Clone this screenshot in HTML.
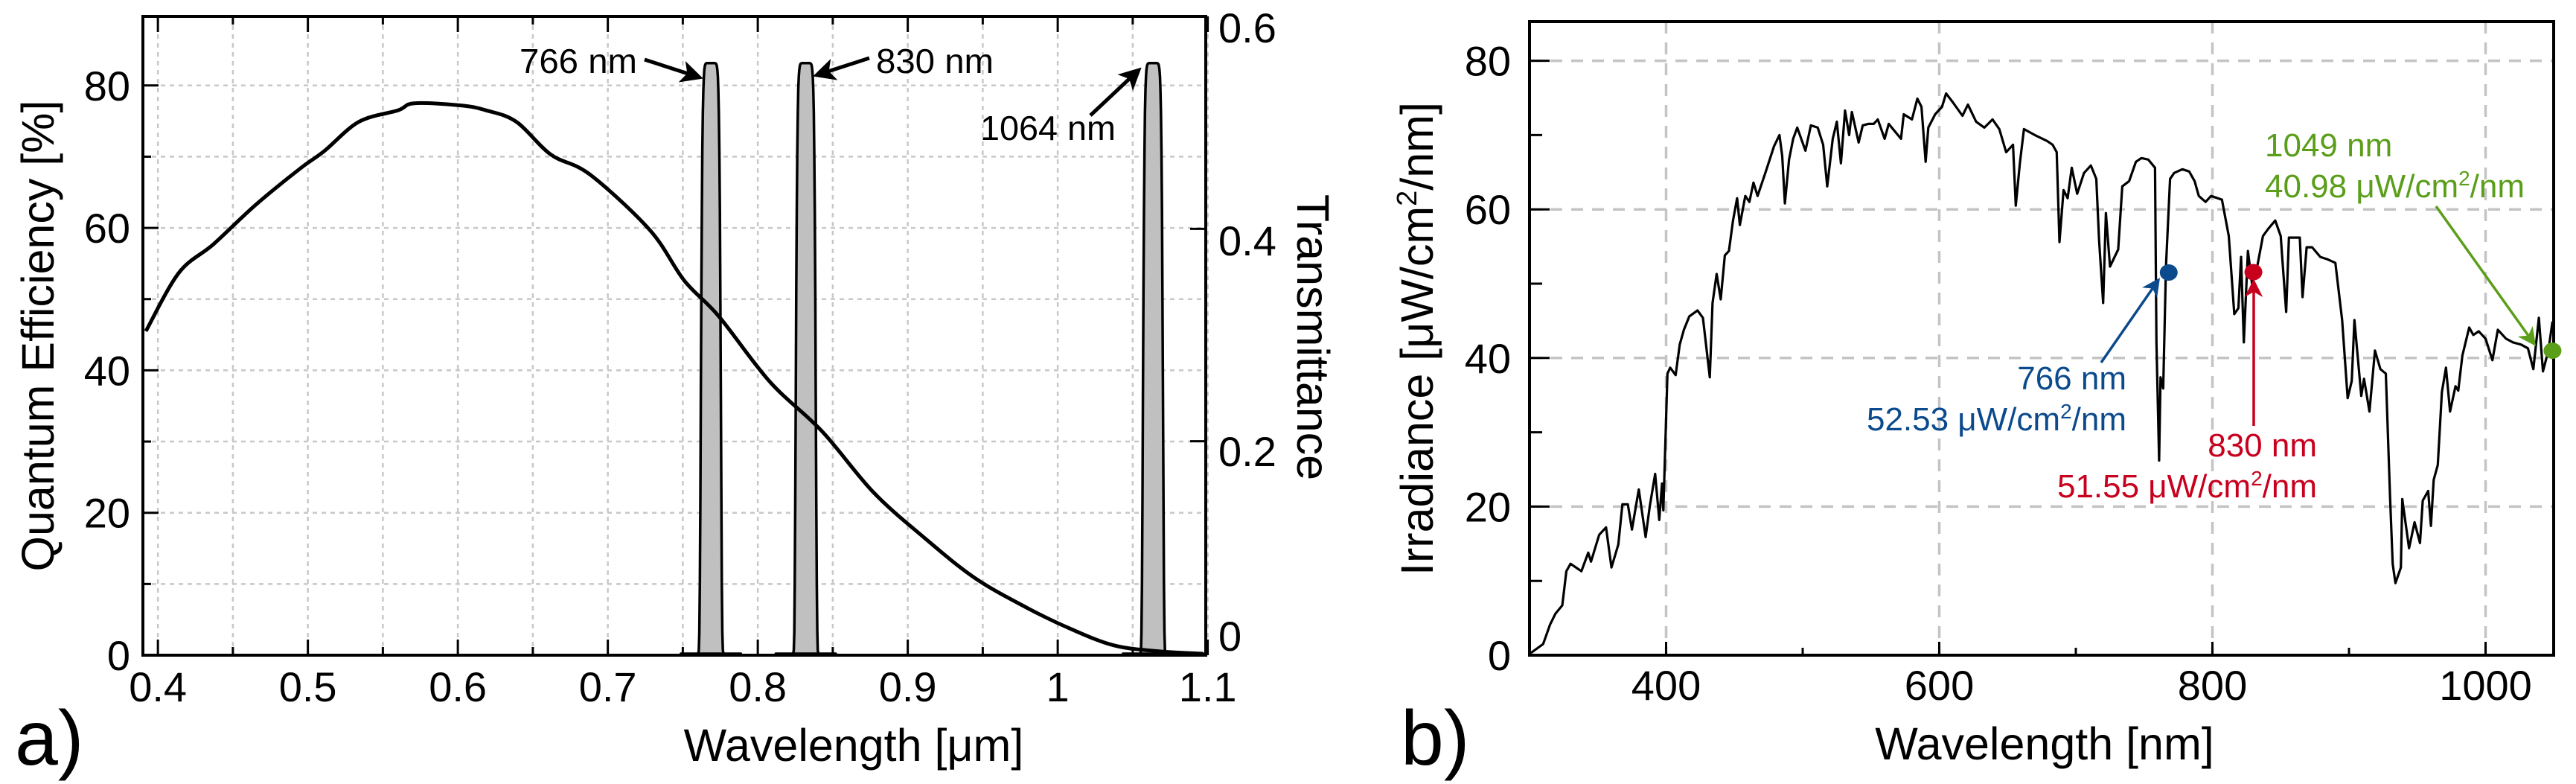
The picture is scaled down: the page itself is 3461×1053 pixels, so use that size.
<!DOCTYPE html>
<html><head><meta charset="utf-8">
<style>
html,body{margin:0;padding:0;background:#fff;}
svg{display:block;font-family:"Liberation Sans","DejaVu Sans",sans-serif;}
</style></head>
<body>
<svg id="fig" width="3461" height="1053" viewBox="0 0 3461 1053" xmlns="http://www.w3.org/2000/svg">
<defs>
<marker id="ahBlack" markerWidth="6" markerHeight="6" refX="5" refY="3" orient="auto" markerUnits="strokeWidth"><path d="M0,0 L6,3 L0,6 L1.5,3 z" fill="#000"/></marker>
<marker id="ahBlue" markerWidth="7" markerHeight="7" refX="6" refY="3.5" orient="auto" markerUnits="strokeWidth"><path d="M0,0 L7,3.5 L0,7 L2,3.5 z" fill="#0b4a8c"/></marker>
<marker id="ahRed" markerWidth="7" markerHeight="7" refX="6" refY="3.5" orient="auto" markerUnits="strokeWidth"><path d="M0,0 L7,3.5 L0,7 L2,3.5 z" fill="#c8001e"/></marker>
<marker id="ahGreen" markerWidth="7" markerHeight="7" refX="6" refY="3.5" orient="auto" markerUnits="strokeWidth"><path d="M0,0 L7,3.5 L0,7 L2,3.5 z" fill="#5a9e1a"/></marker>
</defs>
<g id="panelA"></g>
<g id="panelB"></g>
</svg>
<script>
// ---------- Panel A data ----------
const qeWavelengths = [0.392,0.414,0.437,0.465,0.494,0.511,0.534,0.56,0.571,0.602,0.619,0.639,0.662,0.688,0.728,0.751,0.774,0.808,0.843,0.877,0.911,0.945,0.98,1.008,1.037,1.066,1.097];
const qeValues = [45.5,53.7,57.7,63.2,68.2,70.8,74.9,76.5,77.5,77.2,76.5,74.9,70.3,67.5,59.7,52.6,47.6,38.4,31.4,22.9,16.5,10.8,6.6,3.75,1.4,0.57,0.2];
const filterCenters = [0.7687,0.832,1.0635];
const filterPeaks = [0.556,0.556,0.556];
const filterHalfWidths = [0.0068,0.0068,0.0068];
const filterLabels = ["766 nm","830 nm","1064 nm"];
const xTicksA = [0.4,0.5,0.6,0.7,0.8,0.9,1,1.1];
const xTickLabelsA = ["0.4","0.5","0.6","0.7","0.8","0.9","1","1.1"];
const yTicksA = [0,20,40,60,80];
const yRightTicks = [0,0.2,0.4,0.6];
const yRightLabels = ["0","0.2","0.4","0.6"];

// ---------- Panel B data ----------
const irrWavelengths = [301,310,315,319,324,327,330,338,343,345,351,356,360,365,368,372,375,380,385,388,392,395,397,398,401,403,407,410,413,417,423,427,432,434,437,440,443,446,449,452,454,458,461,464,467,473,479,483,485,487,490,493,496,502,506,511,515,518,522,525,528,531,534,536,541,544,548,552,555,560,563,572,574,580,584,587,590,592,597,602,605,610,617,621,627,633,639,644,649,654,656,659,662,670,679,683,686,688,691,694,697,701,706,711,715,717,720,722,725,731,734,739,744,748,753,758,759,761,762,764,766,769,772,778,783,787,790,795,799,807,812,816,819,821,823,826,829,832,837,841,846,850,851,854,856,864,866,869,873,879,884,890,895,899,902,904,909,911,915,919,923,927,930,932,934,938,939,944,948,952,954,958,960,962,965,968,971,974,978,980,983,988,991,995,1000,1005,1009,1015,1020,1026,1031,1035,1039,1042,1046,1049];
const irrValues = [0.3,1.5,4.1,5.6,6.7,11.3,12.3,11.3,13.8,12.6,16.2,17.2,11.8,14.9,20.3,20.3,16.9,22.3,15.9,20.0,24.4,18.2,23.1,19.5,37.9,38.7,37.7,41.8,43.8,45.6,46.4,45.4,37.4,47.4,51.3,47.9,53.8,54.4,58.5,61.5,57.9,61.8,61.0,63.6,61.8,65.1,68.5,70.0,67.2,60.8,66.7,69.5,71.0,67.9,71.3,71.0,68.7,63.1,69.5,71.8,66.2,73.3,70.0,73.1,69.0,71.3,71.5,71.5,72.1,69.5,71.5,69.5,72.8,72.1,74.9,73.8,66.4,71.0,72.8,73.8,75.6,74.4,72.6,74.1,71.8,71.0,72.1,70.8,67.7,68.7,60.5,66.2,70.8,70.0,69.2,68.7,67.7,55.6,62.6,61.5,65.6,62.1,64.9,65.9,64.1,55.9,47.4,59.5,52.3,54.6,63.1,63.8,66.4,66.9,66.7,65.6,42.1,26.2,37.4,35.9,52.3,64.1,64.9,65.4,65.1,63.8,61.8,61.0,61.8,61.3,56.4,45.9,46.7,53.6,42.1,54.4,50.0,51.5,56.4,57.4,58.5,56.4,53.8,46.2,56.2,56.2,48.2,54.9,54.9,53.6,53.3,52.8,45.1,34.6,36.9,45.1,34.9,37.2,32.8,41.0,38.5,37.9,21.5,12.3,9.7,11.8,21.0,14.4,17.9,15.1,20.8,22.1,17.4,23.6,25.6,35.4,38.7,32.8,36.2,35.6,40.3,44.1,43.1,43.6,42.6,39.7,43.8,42.6,42.1,41.8,41.3,38.5,45.4,38.2,41.0,44.9];
const markerWavelengths = [768,830,1049];
const markerValues = [51.5,51.55,40.98];
const markerLine1 = ["766 nm","830 nm","1049 nm"];
const markerLine2 = ["52.53","51.55","40.98"];
const xTicksB = [400,600,800,1000];
const xMinorB = [500,700,900];
const yTicksB = [0,20,40,60,80];
const yMinorB = [10,30,50,70];

const NS="http://www.w3.org/2000/svg";
function mk(parent,tag,attrs){const e=document.createElementNS(NS,tag);for(const k in attrs)e.setAttribute(k,attrs[k]);parent.appendChild(e);return e;}

// ---------- Panel A ----------
const A={l:192,r:1620,t:22,b:880};
const xA=v=>A.l+(v-0.39)/(1.0987-0.39)*(A.r-A.l);
const yA=v=>A.b-(v/89.7)*(A.b-A.t);
const yT=v=>878-(v/0.6)*(878-22);
const gA=document.getElementById('panelA');

for(let v=0.4;v<=1.1001;v+=0.05){
  const g=mk(gA,'line',{x1:xA(v),x2:xA(v),y1:A.t,y2:A.b,stroke:'#c8c8c8','stroke-width':2.5,'stroke-dasharray':'6,6'});
  
  
}
for(let v=10;v<=80;v+=10){
  const g=mk(gA,'line',{x1:A.l,x2:A.r,y1:yA(v),y2:yA(v),stroke:'#c8c8c8','stroke-width':2.5,'stroke-dasharray':'6,6'});
  
  
}
filterCenters.forEach((c,i)=>{
  let d='';
  for(let k=0;k<=120;k++){
    const x=c-0.02+0.04*k/120;
    const u=Math.abs((x-c)/filterHalfWidths[i]);
    const t=filterPeaks[i]*Math.exp(-Math.pow(u,10));
    d+=(k?'L':'M')+xA(x).toFixed(1)+','+yT(t).toFixed(1);
  }
  const p=mk(gA,'path',{d:d+'Z',fill:'#c0c0c0',stroke:'#000','stroke-width':3.5,'stroke-linejoin':'round'});
  
  
});
// QE curve (Catmull-Rom smoothed)
{
  const pts=qeWavelengths.map((w,i)=>[xA(w),yA(qeValues[i])]);
  let d='M'+pts[0][0].toFixed(1)+','+pts[0][1].toFixed(1);
  for(let i=0;i<pts.length-1;i++){
    const p0=pts[Math.max(0,i-1)],p1=pts[i],p2=pts[i+1],p3=pts[Math.min(pts.length-1,i+2)];
    const c1=[p1[0]+(p2[0]-p0[0])/6,p1[1]+(p2[1]-p0[1])/6];
    const c2=[p2[0]-(p3[0]-p1[0])/6,p2[1]-(p3[1]-p1[1])/6];
    d+='C'+c1[0].toFixed(1)+','+c1[1].toFixed(1)+' '+c2[0].toFixed(1)+','+c2[1].toFixed(1)+' '+p2[0].toFixed(1)+','+p2[1].toFixed(1);
  }
  const p=mk(gA,'path',{d:d,fill:'none',stroke:'#000','stroke-width':5,'stroke-linejoin':'round'});
  
  
}
{
  const f=mk(gA,'rect',{x:A.l,y:A.t,width:A.r-A.l,height:A.b-A.t,fill:'none',stroke:'#000','stroke-width':4});
  
  
}
for(let v=0.4;v<=1.1001;v+=0.05){
  const maj=Math.abs(v*10-Math.round(v*10))<0.01;
  const L=maj?21:11;
  mk(gA,'line',{x1:xA(v),x2:xA(v),y1:A.b,y2:A.b-L,stroke:'#000','stroke-width':3});
  mk(gA,'line',{x1:xA(v),x2:xA(v),y1:A.t,y2:A.t+L,stroke:'#000','stroke-width':3});
}
for(let v=0;v<=80;v+=10){
  const L=(v%20===0)?21:11;
  mk(gA,'line',{x1:A.l,x2:A.l+L,y1:yA(v),y2:yA(v),stroke:'#000','stroke-width':3});
}
yRightTicks.forEach(v=>{mk(gA,'line',{x1:A.r,x2:A.r-21,y1:yT(v),y2:yT(v),stroke:'#000','stroke-width':3});});
xTicksA.forEach((v,i)=>{
  const t=mk(gA,'text',{x:xA(v),y:942,'font-size':56,'text-anchor':'middle'});t.textContent=xTickLabelsA[i];
  
  
});
yTicksA.forEach(v=>{
  const t=mk(gA,'text',{x:175,y:yA(v)+20,'font-size':56,'text-anchor':'end'});t.textContent=String(v);
  
  
});
const rightLabelY=[874,626,343,57];
yRightTicks.forEach((v,i)=>{
  const t=mk(gA,'text',{x:1637,y:rightLabelY[i],'font-size':56,'text-anchor':'start'});t.textContent=yRightLabels[i];
  
  
});
const annA=[{x:698,y:98,anchor:'start',x1:866,y1:80,x2:940,y2:104},
            {x:1177,y:98,anchor:'start',x1:1168,y1:78,x2:1097,y2:101},
            {x:1317,y:188,anchor:'start',x1:1465,y1:155,x2:1530,y2:94}];
annA.forEach((a,i)=>{
  const t=mk(gA,'text',{x:a.x,y:a.y,'font-size':46,'text-anchor':a.anchor,textLength:i==2?182:158,lengthAdjust:'spacingAndGlyphs'});t.textContent=filterLabels[i];
  
  
  const l=mk(gA,'line',{x1:a.x1,y1:a.y1,x2:a.x2,y2:a.y2,stroke:'#000','stroke-width':5,'marker-end':'url(#ahBlack)'});
  
  
});
{
  let t=mk(gA,'text',{x:1147,y:1022,'font-size':61,'text-anchor':'middle'});t.textContent='Wavelength [μm]';
  
  t=mk(gA,'text',{x:0,y:0,'font-size':61,'text-anchor':'middle',transform:'translate(72,451) rotate(-90)'});t.textContent='Quantum Efficiency [%]';
  
  t=mk(gA,'text',{x:0,y:0,'font-size':61,'text-anchor':'middle',transform:'translate(1743,453) rotate(90)'});t.textContent='Transmittance';
  
  t=mk(gA,'text',{x:20,y:1027,'font-size':104});t.textContent='a)';
  
}

// ---------- Panel B ----------
const B={l:2055,r:3431,t:29,b:880};
const xB=v=>B.l+(v-300)*1.835;
const yB=v=>B.b-v*9.98;
const gB=document.getElementById('panelB');
xTicksB.forEach(v=>{
  const g=mk(gB,'line',{x1:xB(v),x2:xB(v),y1:B.t,y2:B.b,stroke:'#c4c4c4','stroke-width':3.5,'stroke-dasharray':'16,12'});
  
});
yTicksB.slice(1).forEach(v=>{
  const g=mk(gB,'line',{x1:B.l,x2:B.r,y1:yB(v),y2:yB(v),stroke:'#c4c4c4','stroke-width':3.5,'stroke-dasharray':'16,12'});
  
});
{
  let d='';
  irrWavelengths.forEach((w,i)=>{d+=(i?'L':'M')+xB(w).toFixed(1)+','+yB(irrValues[i]).toFixed(1);});
  const p=mk(gB,'path',{d:d,fill:'none',stroke:'#000','stroke-width':3.2,'stroke-linejoin':'round'});
  
}
{
  const f=mk(gB,'rect',{x:B.l,y:B.t,width:B.r-B.l,height:B.b-B.t,fill:'none',stroke:'#000','stroke-width':4});
  
}
xTicksB.forEach(v=>mk(gB,'line',{x1:xB(v),x2:xB(v),y1:B.b,y2:B.b-18,stroke:'#000','stroke-width':3}));
xMinorB.forEach(v=>mk(gB,'line',{x1:xB(v),x2:xB(v),y1:B.b,y2:B.b-10,stroke:'#000','stroke-width':3}));
yTicksB.forEach(v=>mk(gB,'line',{x1:B.l,x2:B.l+27,y1:yB(v),y2:yB(v),stroke:'#000','stroke-width':3}));
yMinorB.forEach(v=>mk(gB,'line',{x1:B.l,x2:B.l+17,y1:yB(v),y2:yB(v),stroke:'#000','stroke-width':3}));
xTicksB.forEach(v=>{
  const t=mk(gB,'text',{x:xB(v),y:940,'font-size':56,'text-anchor':'middle'});t.textContent=String(v);
  
});
yTicksB.forEach(v=>{
  const t=mk(gB,'text',{x:2030,y:yB(v)+20,'font-size':56,'text-anchor':'end'});t.textContent=String(v);
  
});
const mColors=['#0b4a8c','#c8001e','#5a9e1a'];
const mHeads=['url(#ahBlue)','url(#ahRed)','url(#ahGreen)'];
const mArrows=[[2823,487,2900,376],[3028,572,3028,378],[3273,277,3405,462]];
const mText=[[2857,523,'end'],[3113,613,'end'],[3043,210,'start']];
markerWavelengths.forEach((w,i)=>{
  const a=mArrows[i];
  const l=mk(gB,'line',{x1:a[0],y1:a[1],x2:a[2],y2:a[3],stroke:mColors[i],'stroke-width':3.5,'marker-end':mHeads[i]});
  
  const c=mk(gB,'ellipse',{cx:xB(w),cy:yB(markerValues[i]),rx:12,ry:11,fill:mColors[i]});
  
  const tx=mText[i];
  const t1=mk(gB,'text',{x:tx[0],y:tx[1],'font-size':44,fill:mColors[i],'text-anchor':tx[2]});t1.textContent=markerLine1[i];
  
  const t2=mk(gB,'text',{x:tx[0],y:tx[1]+55,'font-size':44,fill:mColors[i],'text-anchor':tx[2]});
  
  const s1=mk(t2,'tspan',{});s1.textContent=markerLine2[i]+' μW/cm';
  const s2=mk(t2,'tspan',{'font-size':28,dy:-16});s2.textContent='2';
  const s3=mk(t2,'tspan',{dy:16});s3.textContent='/nm';
});
{
  let t=mk(gB,'text',{x:2747,y:1020,'font-size':61,'text-anchor':'middle'});t.textContent='Wavelength [nm]';
  
  t=mk(gB,'text',{x:0,y:0,'font-size':61,'text-anchor':'middle',transform:'translate(1925,455) rotate(-90)'});
  
  mk(t,'tspan',{}).textContent='Irradiance [μW/cm';
  mk(t,'tspan',{'font-size':38,dy:-22}).textContent='2';
  mk(t,'tspan',{dy:22}).textContent='/nm]';
  t=mk(gB,'text',{x:1882,y:1027,'font-size':104});t.textContent='b)';
  
}
</script>
</body></html>
